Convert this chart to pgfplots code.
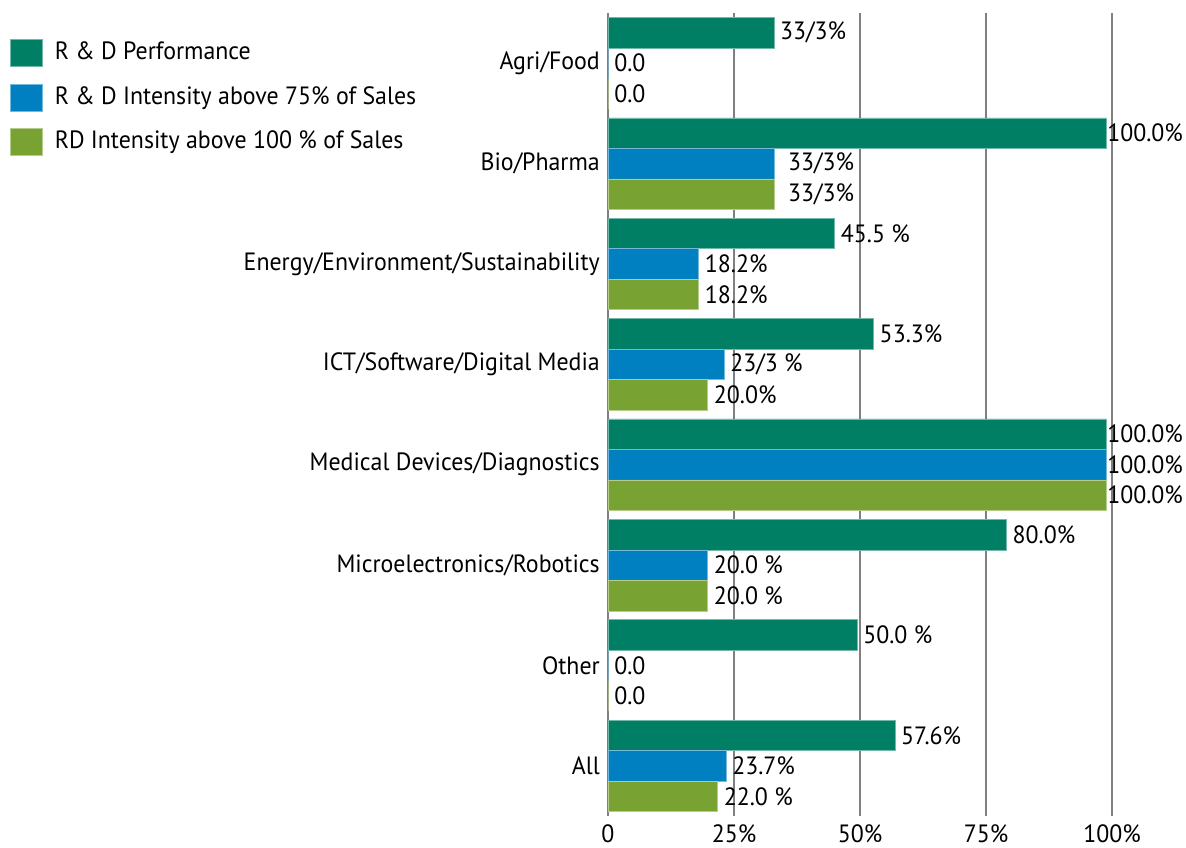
\documentclass[border=0pt]{standalone}
\usepackage{pgfplots}
\pgfplotsset{compat=1.18}
\usepackage{fontspec}
\setmainfont[FakeStretch=0.955]{PT Sans}
\definecolor{cgreen}{HTML}{007F64}
\definecolor{cblue}{HTML}{0080C0}
\definecolor{clime}{HTML}{78A232}
\definecolor{cgrid}{HTML}{808080}
\newcommand{\lbl}{\fontsize{25}{30}\selectfont}
\begin{document}
\lbl
\begin{tikzpicture}[x=1pt,y=1pt]
\path[use as bounding box] (0,0) rectangle (1186,-847);
\begin{axis}[
  at={(608pt,-13pt)}, anchor=north west,
  scale only axis, width=504pt, height=803pt,
  xbar, bar width=0.304,
  xmin=0, xmax=101.2, ymin=-0.5, ymax=7.5, y dir=reverse,
  axis line style={draw=none},
  major tick length=0pt,
  xtick={0,25.3,50.6,75.9,101.2},
  xticklabels={0,25\%,50\%,75\%,100\%},
  xmajorgrids, grid style={cgrid, line width=1.2pt},
  ytick={0,1,2,3,4,5,6,7},
  yticklabels={Agri/Food,Bio/Pharma,Energy/Environment/Sustainability,ICT/Software/Digital Media,Medical Devices/Diagnostics,Microelectronics/Robotics,Other,All},
  yticklabel style={font=\lbl, inner sep=0pt, xshift=-8pt},
  xticklabel style={font=\lbl, inner sep=0pt, yshift=-8pt},
  /pgf/number format/assume math mode=true,
  point meta=explicit symbolic,
  nodes near coords,
  every node near coord/.append style={font=\lbl, inner sep=0pt, anchor=west, xshift=6pt, black},
  legend image code/.code={\fill[#1] (0pt,-13.5pt) rectangle (32pt,13.5pt);},
  legend cell align=left,
  legend style={at={(axis description cs:-1.1865,0.968)}, anchor=north west,
    draw=none, fill=none, inner sep=0pt, font=\lbl,
    nodes={inner sep=0pt}, row sep=17pt, /tikz/column sep=12pt},
]
\addplot[fill=cgreen, draw=cgreen!55!white, line width=0.6pt, bar shift=-0.304] coordinates {
 (33.3,0) [33/3\%]
 (100,1) [\kern-5pt100.0\%]
 (45.5,2) [45.5 \%]
 (53.3,3) [53.3\%]
 (100,4) [\kern-5pt100.0\%]
 (80.0,5) [80.0\%]
 (50.0,6) [50.0 \%]
 (57.6,7) [57.6\%]
};
\addplot[fill=cblue, draw=cblue!55!white, line width=0.6pt, bar shift=0] coordinates {
 (0,0) [0.0]
 (33.3,1) [\kern8pt33/3\%]
 (18.2,2) [18.2\%]
 (23.3,3) [23/3 \%]
 (100,4) [\kern-5pt100.0\%]
 (20.0,5) [20.0 \%]
 (0,6) [0.0]
 (23.7,7) [23.7\%]
};
\addplot[fill=clime, draw=clime!55!white, line width=0.6pt, bar shift=0.304] coordinates {
 (0,0) [0.0]
 (33.3,1) [\kern8pt33/3\%]
 (18.2,2) [18.2\%]
 (20.0,3) [20.0\%]
 (100,4) [\kern-5pt100.0\%]
 (20.0,5) [20.0 \%]
 (0,6) [0.0]
 (22.0,7) [22.0 \%]
};
\legend{R \& D Performance, R \& D Intensity above 75\% of Sales, RD Intensity above 100 \% of Sales}
\end{axis}
\end{tikzpicture}
\end{document}
